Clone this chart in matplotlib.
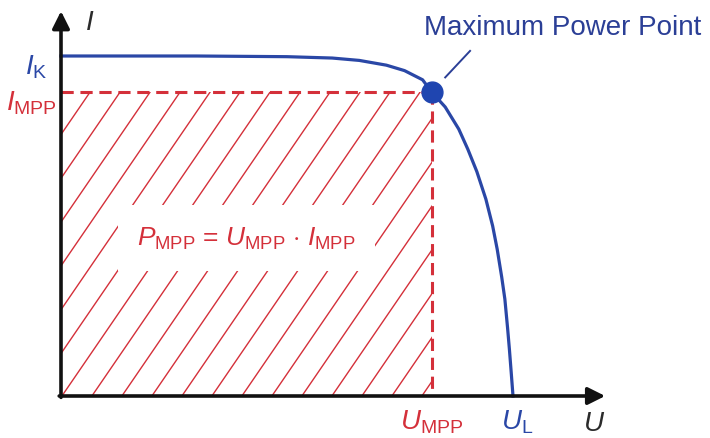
import numpy as np
import matplotlib
matplotlib.use('Agg')
import matplotlib.pyplot as plt
from matplotlib.patches import Rectangle

plt.rcParams['font.family'] = 'Liberation Sans'
plt.rcParams['mathtext.fontset'] = 'custom'
plt.rcParams['mathtext.rm'] = 'Liberation Sans'
plt.rcParams['mathtext.it'] = 'Liberation Sans:italic'

# I-U curve of a solar cell, normalised (U_L = 1, I_K = 1)
u_curve = [0.0, 0.30, 0.50, 0.60, 0.66, 0.72, 0.76, 0.80, 0.82, 0.85, 0.88,
           0.90, 0.92, 0.94, 0.955, 0.965, 0.975, 0.982, 0.988, 0.992, 0.996, 1.0]
i_curve = [1.0, 1.0, 0.998, 0.994, 0.987, 0.973, 0.957, 0.93, 0.894, 0.85, 0.785,
           0.726, 0.66, 0.579, 0.50, 0.432, 0.35, 0.285, 0.20, 0.138, 0.07, 0.0]
U_MPP = 0.82
I_MPP = 0.894
U_L = 1.0
I_K = 1.0

blue = '#2a47a6'
red = '#d4303a'
dark = '#2b2b2b'

fig = plt.figure(figsize=(7.1, 4.39), dpi=100)
ax = fig.add_axes([0, 0, 1, 1])
ax.axis('off')
# origin sits at pixel (61, 397); 452 px per unit U, 340 px per unit I
ax.set_xlim(-61 / 452, (710 - 61) / 452)
ax.set_ylim(-(439 - 397) / 340, 397 / 340)

# hatched power rectangle
rect = Rectangle((0, 0), U_MPP, I_MPP, facecolor='none', edgecolor='none')
ax.add_patch(rect)
slope = 1.46 * 452 / 340
step = 30 / 452
for u0 in np.arange(0.002 - 12 * step, U_MPP + 0.1, step):
    ln, = ax.plot([u0, u0 + 1.2 / slope], [0, 1.2], color=red, lw=1.0, zorder=1)
    ln.set_clip_path(rect)

# dashed MPP lines
ax.plot([0, U_MPP], [I_MPP, I_MPP], color=red, lw=2.2, ls=(0, (4, 2.2)), zorder=3)
ax.plot([U_MPP, U_MPP], [I_MPP, 0], color=red, lw=2.2, ls=(0, (4, 2.2)), zorder=3)

# curve
ax.plot(u_curve, i_curve, color=blue, lw=2.3, zorder=4)
ax.plot([U_MPP], [I_MPP], 'o', color='#1f45b0', ms=15, zorder=5)

# axes with arrows
ax.annotate('', xy=(1.204, 0), xytext=(-0.004, 0),
            arrowprops=dict(arrowstyle='-|>', lw=2.6, color='#111111', mutation_scale=26,
                            shrinkA=0, shrinkB=0), zorder=6)
ax.annotate('', xy=(0, 1.132), xytext=(0, -0.004),
            arrowprops=dict(arrowstyle='-|>', lw=2.6, color='#111111', mutation_scale=26,
                            shrinkA=0, shrinkB=0), zorder=6)

# labels
ax.text(0.063, 1.1, '$I$', fontsize=20, color=dark, ha='center', va='center')
ax.text(1.18, -0.08, '$U$', fontsize=20, color=dark, ha='center', va='center')
ax.text(-0.055, I_K - 0.03, '$I_{\\mathrm{K}}$', fontsize=20, color=blue, ha='center', va='center')
ax.text(-0.065, I_MPP - 0.03, '$I_{\\mathrm{MPP}}$', fontsize=20, color=red, ha='center', va='center')
ax.text(U_MPP, -0.075, '$U_{\\mathrm{MPP}}$', fontsize=20, color=red, ha='center', va='center')
ax.text(U_L + 0.01, -0.075, '$U_{\\mathrm{L}}$', fontsize=20, color=blue, ha='center', va='center')
ax.text(0.41, 0.465, '$P_{\\mathrm{MPP}}$ = $U_{\\mathrm{MPP}}$ $\\cdot$ $I_{\\mathrm{MPP}}$',
        fontsize=19, color=red, ha='center', va='center', zorder=2,
        bbox=dict(facecolor='white', edgecolor='none', pad=14))
ax.text(1.11, 1.085, 'Maximum Power Point', fontsize=20, color='#2b3f96',
        ha='center', va='center')
ax.plot([0.905, 0.85], [1.015, 0.937], color='#2b3f96', lw=1.4)

fig.savefig('out.png', dpi=100)
